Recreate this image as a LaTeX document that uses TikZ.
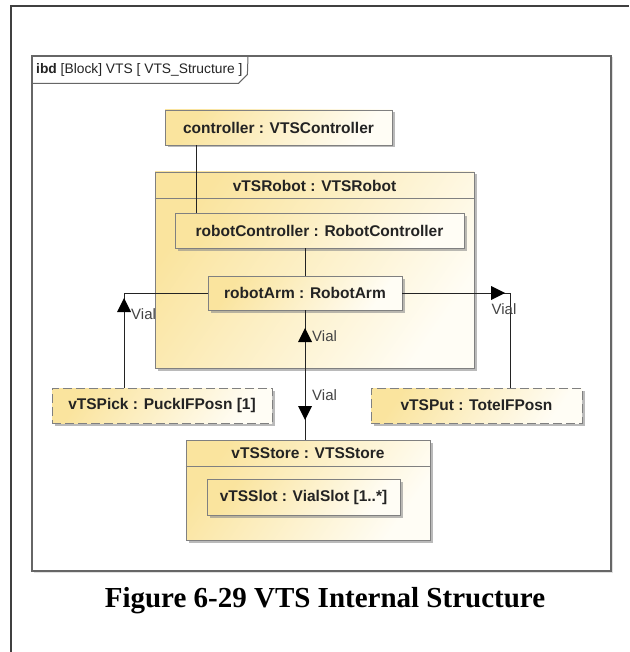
\documentclass[tikz,border=0pt]{standalone}
\usepackage{fontspec}
\setmainfont{Liberation Serif}
\setsansfont{Liberation Sans}
\usetikzlibrary{shadows,calc}
\definecolor{ylw}{RGB}{250,228,158}
\definecolor{ylwl}{RGB}{255,253,245}
\definecolor{bord}{RGB}{128,128,128}
\definecolor{ink}{RGB}{35,35,35}
\begin{document}
\begin{tikzpicture}[x=1pt,y=-1pt,
  part/.style={draw=bord, line width=0.9pt, top color=ylw, bottom color=ylwl, shading angle=55,
    drop shadow={shadow xshift=2.5pt, shadow yshift=-2.5pt, fill=black!45, opacity=0.6},
    font=\sffamily\bfseries\fontsize{15.5}{18}\selectfont, text=ink, inner sep=0pt},
  refpart/.style={part, dash pattern=on 9pt off 4pt},
  title/.style={font=\sffamily\bfseries\fontsize{15.5}{18}\selectfont, text=ink, inner sep=0pt},
  conn/.style={draw=ink, line width=0.8pt},
  flow/.style={fill=black},
  vial/.style={font=\sffamily\fontsize{15}{18}\selectfont, text=ink!85, inner sep=0pt},
]
\useasboundingbox (0,0) rectangle (629,652);
\fill[white] (0,0) rectangle (629,652);

% page lines
\draw[line width=1.8pt, black!75] (11,652) -- (11,6) -- (629,6);

% frame
\node[draw=black!60, line width=1.2pt, fill=white, minimum width=579pt, minimum height=515pt, inner sep=0pt,
  drop shadow={shadow xshift=1.5pt, shadow yshift=-1.5pt, fill=black!20, opacity=0.6}] (frame) at (321.5,313.5) {};
\draw[black!60, line width=1pt] (frame.north west) ++(0,28) -- ++(207,0) -- ++(9,-9) -- (248,56);
\node[anchor=west, font=\sffamily\fontsize{13.8}{16}\selectfont, text=ink, inner sep=0pt] (framelabel) at (36,70)
  {\textbf{ibd} [Block] VTS [ VTS\_Structure ]};

% parts
\node[part, minimum width=227pt, minimum height=35pt] (controller) at (278.5,127.5) {controller : VTSController};

\node[part, minimum width=319pt, minimum height=196pt] (vTSRobot) at (314.5,270) {};
\node[title] (robotTitle) at (314.5,185.5) {vTSRobot : VTSRobot};
\draw[bord, line width=0.9pt] (vTSRobot.west |- 0,198) -- (vTSRobot.east |- 0,198);

\node[part, minimum width=289pt, minimum height=35pt] (robotController) at (319.5,230.5) {robotController : RobotController};
\node[part, minimum width=194pt, minimum height=34pt] (robotArm) at (305,293) {robotArm : RobotArm};

\node[refpart, minimum width=220pt, minimum height=35pt] (vTSPick) at (162,405.5) {vTSPick : PuckIFPosn [1]};
\node[refpart, minimum width=211pt, minimum height=35pt] (vTSPut) at (476.5,405.5) {vTSPut : ToteIFPosn};

\node[part, minimum width=244pt, minimum height=100pt] (vTSStore) at (308,490) {};
\node[title] (storeTitle) at (308,453) {vTSStore : VTSStore};
\draw[bord, line width=0.9pt] (vTSStore.west |- 0,466) -- (vTSStore.east |- 0,466);
\node[part, minimum width=193pt, minimum height=36pt] (vTSSlot) at (303.5,497) {vTSSlot : VialSlot [1..*]};

% connectors
\coordinate (cc) at (196,0);
\coordinate (lc) at (124,0);
\coordinate (rc) at (510,0);
\draw[conn] (controller.south -| cc) -- (robotController.north -| cc);
\draw[conn] (robotController.south -| robotArm.south) -- (robotArm.north);
\draw[conn] (robotArm.west) -| (vTSPick.north -| lc);
\draw[conn] (robotArm.east) -| (vTSPut.north -| rc);
\draw[conn] (robotArm.south) -- (robotArm.south |- vTSStore.north);

% item flows
\fill[flow] (124,298) -- ++(-7,14) -- ++(14,0) -- cycle;
\node[vial, anchor=west] (v1) at (131,314) {Vial};
\fill[flow] (505,293) -- ++(-14,-7) -- ++(0,14) -- cycle;
\node[vial] (v2) at (504,309) {Vial};
\fill[flow] (305,328) -- ++(-7,14) -- ++(14,0) -- cycle;
\node[vial, anchor=west] (v3) at (312,336) {Vial};
\fill[flow] (305,420) -- ++(-7,-14) -- ++(14,0) -- cycle;
\node[vial, anchor=west] (v4) at (312,395) {Vial};

% caption
\node[font=\rmfamily\bfseries\fontsize{29}{33}\selectfont, text=black, inner sep=0pt] (caption) at (325,601)
  {Figure 6-29 VTS Internal Structure};
\end{tikzpicture}
\end{document}
